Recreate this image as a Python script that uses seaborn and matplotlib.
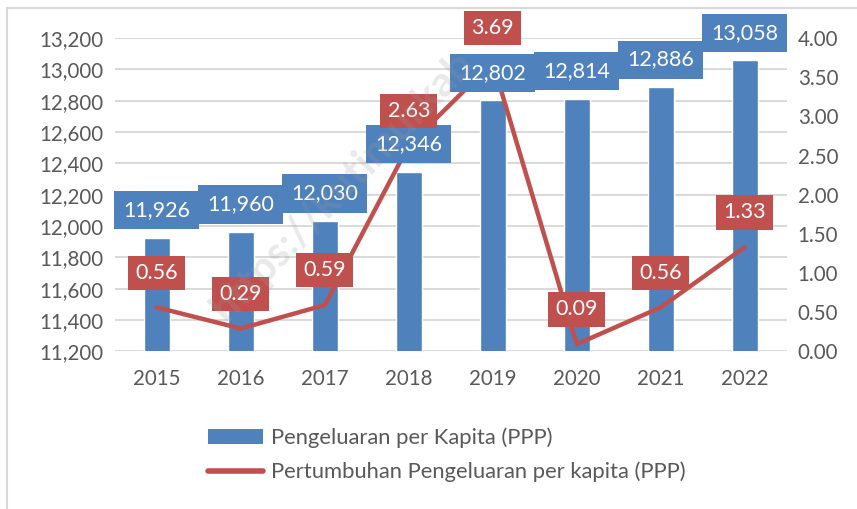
import pandas as pd
import numpy as np
import matplotlib.pyplot as plt
import seaborn as sns
from matplotlib.patches import Patch, Rectangle
from matplotlib.lines import Line2D

# --------------------------
# Data
# --------------------------
years = ["2015", "2016", "2017", "2018", "2019", "2020", "2021", "2022"]
pengeluaran = [11926, 11960, 12030, 12346, 12802, 12814, 12886, 13058]
pertumbuhan = [0.56, 0.29, 0.59, 2.63, 3.69, 0.09, 0.56, 1.33]

df = pd.DataFrame({"Tahun": years, "Pengeluaran": pengeluaran, "Pertumbuhan": pertumbuhan})

BLUE = "#4F81BD"
RED = "#C0504D"
GREY = "#595959"

sns.set_style("white")
plt.rcParams['font.family'] = ['Lato', 'DejaVu Sans']

fig = plt.figure(figsize=(8.57, 5.09), dpi=100)
ax = fig.add_axes([0.134, 0.31, 0.784, 0.615])

# --------------------------
# Bars (left axis)
# --------------------------
sns.barplot(data=df, x="Tahun", y="Pengeluaran", color=BLUE, width=0.31,
            saturation=1, ax=ax, zorder=2)
ax.set_ylim(11200, 13200)
ax.set_yticks(np.arange(11200, 13201, 200))
ax.set_yticklabels([f"{v:,}" for v in range(11200, 13201, 200)])
ax.set_xlim(-0.5, 7.5)
ax.grid(axis='y', color='#D9D9D9', linewidth=1.4, zorder=0)
ax.set_axisbelow(True)
ax.set_xlabel("")
ax.set_ylabel("")
for s in ax.spines.values():
    s.set_visible(False)
ax.tick_params(axis='both', length=0, labelsize=14.8, colors=GREY)
ax.tick_params(axis='x', pad=13)
ax.tick_params(axis='y', pad=8)

# --------------------------
# Line (right axis)
# --------------------------
ax2 = ax.twinx()
sns.lineplot(x=np.arange(len(years)), y=pertumbuhan, color=RED, linewidth=3.2,
             ax=ax2, zorder=2, legend=False)
ax2.set_ylim(0, 4)
ax2.set_yticks(np.arange(0, 4.01, 0.5))
ax2.set_yticklabels([f"{v:.2f}" for v in np.arange(0, 4.01, 0.5)])
ax2.set_xlim(-0.5, 7.5)
for s in ax2.spines.values():
    s.set_visible(False)
ax2.tick_params(axis='y', length=0, labelsize=14.8, colors=GREY, pad=8)
ax2.grid(False)

# --------------------------
# Data labels
# --------------------------
for i, v in enumerate(pengeluaran):
    ax2.annotate(f"{v:,}", xy=(i, v), xycoords=ax.transData,
                 xytext=(0, 20), textcoords='offset points',
                 ha='center', va='center', color='white', fontsize=15.5, zorder=3,
                 bbox=dict(boxstyle='square,pad=0.42', fc=BLUE, ec='none'))

for i, v in enumerate(pertumbuhan):
    ax2.annotate(f"{v:.2f}", xy=(i, v), xytext=(0, 25), textcoords='offset points',
                 ha='center', va='center', color='white', fontsize=15.5, zorder=4,
                 bbox=dict(boxstyle='square,pad=0.33', fc=RED, ec='none'))

# watermark
fig.text(0.40, 0.635, "https://kutimurkab", rotation=46, fontsize=30, color='#9A9A9A',
         alpha=0.22, ha='center', va='center', fontweight='bold')

# --------------------------
# Legend and frame
# --------------------------
handles = [Patch(facecolor=BLUE, edgecolor='none'),
           Line2D([0], [0], color=RED, linewidth=4)]
labels = ["Pengeluaran per Kapita (PPP)", "Pertumbuhan Pengeluaran per kapita (PPP)"]
fig.legend(handles, labels, loc='center left', bbox_to_anchor=(0.23, 0.106),
           frameon=False, fontsize=15.8, labelcolor=GREY, handlelength=2.5,
           handleheight=0.7, handletextpad=0.35, labelspacing=0.6, borderpad=0)

fig.patches.append(Rectangle((0.008, -0.01), 1.0, 0.994, transform=fig.transFigure,
                             fill=False, edgecolor='#D9D9D9', linewidth=1.5))

plt.savefig("out.png", dpi=100)
